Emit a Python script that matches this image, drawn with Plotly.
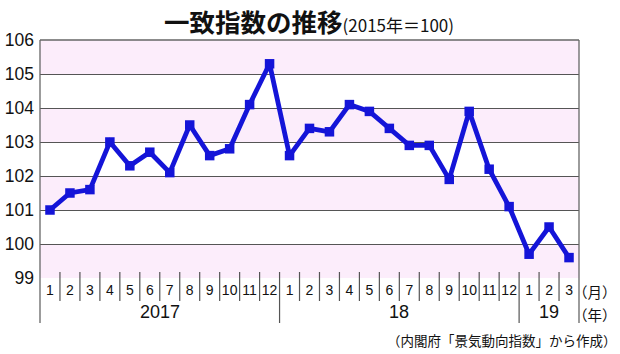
import plotly.graph_objects as go

months = ["1","2","3","4","5","6","7","8","9","10","11","12",
          "1","2","3","4","5","6","7","8","9","10","11","12",
          "1","2","3"]
values = [101.0, 101.5, 101.6, 103.0, 102.3, 102.7, 102.1, 103.5, 102.6, 102.8, 104.1, 105.3,
          102.6, 103.4, 103.3, 104.1, 103.9, 103.4, 102.9, 102.9, 101.9, 103.9, 102.2, 101.1,
          99.7, 100.5, 99.6]
years = ["2017", "18", "19"]
year_pos = [5.5, 17.5, 25.0]
year_bounds = [12, 24]
y_ticks = [99, 100, 101, 102, 103, 104, 105, 106]

x = list(range(len(values)))
PH = 238.0

fig = go.Figure()
fig.add_trace(go.Scatter(
    x=x, y=values, mode="lines+markers",
    line=dict(color="#1414d8", width=4.8),
    marker=dict(symbol="square", size=9.5, color="#1414d8"),
    cliponaxis=False, showlegend=False))

shapes = []
for i, t in enumerate(y_ticks[:-1]):
    if i % 2 == 0:
        shapes.append(dict(type="rect", xref="paper", yref="y", x0=0, x1=1, y0=t, y1=t + 1,
                           fillcolor="#fcedfb", line=dict(width=0), layer="below"))
for i in range(1, len(values)):
    long = i in year_bounds
    shapes.append(dict(type="line", xref="x", yref="paper", x0=i - 0.5, x1=i - 0.5,
                       y0=6 / PH, y1=-(45 if long else 23) / PH,
                       line=dict(color="#555", width=1.2)))
for xe in [0, 1]:
    shapes.append(dict(type="line", xref="paper", yref="paper", x0=xe, x1=xe,
                       y0=1, y1=-45 / PH, line=dict(color="#666", width=1.3)))
shapes.append(dict(type="line", xref="paper", yref="paper", x0=0, x1=1, y0=1, y1=1,
                   line=dict(color="#666", width=1.3)))

fig.update_layout(
    width=620, height=354,
    margin=dict(l=40, r=41, t=40, b=76),
    paper_bgcolor="white", plot_bgcolor="white",
    shapes=shapes,
    xaxis=dict(range=[-0.5, len(values) - 0.5], tickvals=x, ticktext=months,
               showgrid=False, zeroline=False, showline=False, ticks="", automargin=False,
               tickfont=dict(size=14, color="#111", family="Liberation Sans"),
               ticklabelstandoff=2),
    yaxis=dict(range=[99, 106], tickvals=y_ticks, showgrid=True, gridcolor="#555",
               gridwidth=1.4, zeroline=False, showline=False, ticks="", automargin=False,
               tickfont=dict(size=17.5, color="#111", family="Liberation Sans"),
               ticklabelstandoff=5),
)

annotations = []
for lab, p in zip(years, year_pos):
    annotations.append(dict(x=p, y=-34 / PH, xref="x", yref="paper", text=lab, showarrow=False,
                            font=dict(size=18, color="#111", family="Liberation Sans"),
                            xanchor="center", yanchor="middle"))

def px_ann(xp, yp, text, size, xanchor, family, weight="normal"):
    return dict(x=(xp - 40) / 539.0, y=(278 - yp) / PH, xref="paper", yref="paper",
                text=text, showarrow=False, xanchor=xanchor, yanchor="middle",
                font=dict(size=size, color="#111", family=family, weight=weight))

annotations.append(px_ann(619, 291, "（月）", 14.5, "right", "Noto Sans CJK JP"))
annotations.append(px_ann(619, 314, "（年）", 14.5, "right", "Noto Sans CJK JP"))
annotations.append(px_ann(619, 340, "（内閣府「景気動向指数」から作成）", 13.5, "right", "Noto Sans CJK JP"))
annotations.append(px_ann(309, 20,
    "<b>一致指数の推移</b><span style='font-size:17px;font-weight:normal'>"
    "(2015年＝100)</span>",
    25.5, "center", "Noto Sans CJK JP", 900))
fig.update_layout(annotations=annotations)

fig.write_html("out.html")
